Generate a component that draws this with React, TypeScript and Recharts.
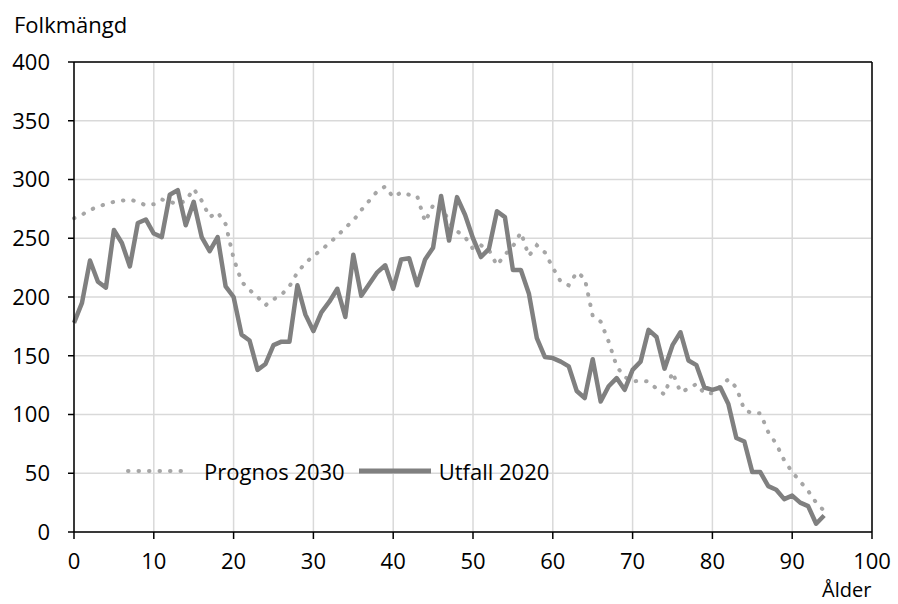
import { LineChart, Line, XAxis, YAxis, CartesianGrid, ReferenceLine } from "recharts";

const ages = Array.from({ length: 95 }, (_, i) => i);

const utfall2020 = [
  178, 195, 231, 213, 208, 257, 246, 226, 263, 266,
  254, 251, 287, 291, 261, 281, 251, 239, 251, 209,
  200, 168, 163, 138, 143, 159, 162, 162, 210, 185,
  171, 187, 196, 207, 183, 236, 201, 211, 221, 227,
  207, 232, 233, 210, 232, 242, 286, 248, 285, 270,
  250, 234, 241, 273, 268, 223, 223, 203, 165, 149,
  148, 145, 141, 120, 114, 147, 111, 124, 131, 121,
  138, 145, 172, 166, 139, 159, 170, 146, 142, 123,
  121, 123, 109, 80, 77, 51, 51, 39, 36, 28,
  31, 25, 22, 7, 14,
];

const prognos2030 = [
  267, 270, 274, 277, 279, 281, 282, 283, 281, 278,
  279, 283, 281, 279, 282, 292, 282, 268, 272, 262,
  233, 213, 206, 200, 193, 198, 202, 209, 221, 229,
  235, 240, 246, 252, 259, 265, 274, 282, 290, 294,
  285, 289, 287, 286, 264, 278, 278, 264, 256, 251,
  241, 244, 240, 227, 236, 243, 255, 235, 244, 238,
  225, 213, 210, 221, 216, 184, 179, 162, 141, 132,
  128, 129, 128, 122, 117, 136, 119, 122, 126, 118,
  118, 124, 130, 123, 104, 101, 101, 85, 75, 61,
  51, 43, 35, 25, 18,
];

const xTicks = [0, 10, 20, 30, 40, 50, 60, 70, 80, 90, 100];
const yTicks = [0, 50, 100, 150, 200, 250, 300, 350, 400];

const data = ages.map((a, i) => ({ age: a, utfall: utfall2020[i], prognos: prognos2030[i] }));

const FONT = "'Open Sans', sans-serif";

function ChartLegend() {
  return (
    <div style={{ display: "flex", alignItems: "center", fontFamily: FONT, fontSize: 22, color: "#000" }}>
      <svg width={66} height={10} style={{ marginRight: 12 }}>
        <line x1={2} y1={5} x2={64} y2={5} stroke="#a6a6a6" strokeWidth={4} strokeLinecap="round" strokeDasharray="0.5 10" />
      </svg>
      <span>Prognos 2030</span>
      <svg width={72} height={10} style={{ marginLeft: 14, marginRight: 8 }}>
        <line x1={0} y1={5} x2={72} y2={5} stroke="#808080" strokeWidth={5} />
      </svg>
      <span>Utfall 2020</span>
    </div>
  );
}

export default function App() {
  return (
    <div style={{ position: "absolute", left: 0, top: 0, width: 898, height: 604, background: "#fff" }}>
      <LineChart width={898} height={604} data={data} margin={{ top: 62, right: 26, bottom: 32, left: 8 }}>
        <CartesianGrid stroke="#d9d9d9" strokeWidth={1.5} />
        <XAxis
          dataKey="age"
          type="number"
          domain={[0, 100]}
          ticks={xTicks}
          height={40}
          tickSize={7}
          tickMargin={14}
          axisLine={{ stroke: "#000", strokeWidth: 1.5 }}
          tickLine={{ stroke: "#000", strokeWidth: 1.5 }}
          tick={{ fill: "#000", fontSize: 22, fontFamily: FONT }}
          interval={0}
        />
        <YAxis
          domain={[0, 400]}
          ticks={yTicks}
          width={66}
          tickSize={6}
          tickMargin={18}
          axisLine={{ stroke: "#000", strokeWidth: 1.5 }}
          tickLine={{ stroke: "#000", strokeWidth: 1.5 }}
          tick={{ fill: "#000", fontSize: 22, fontFamily: FONT }}
          interval={0}
        />
        <ReferenceLine y={400} stroke="#000" strokeWidth={1.5} />
        <ReferenceLine x={100} stroke="#000" strokeWidth={1.5} />
        <Line
          dataKey="prognos"
          name="Prognos 2030"
          stroke="#a6a6a6"
          strokeWidth={4}
          strokeLinecap="round"
          strokeDasharray="0.5 10"
          dot={false}
          activeDot={false}
          isAnimationActive={false}
        />
        <Line
          dataKey="utfall"
          name="Utfall 2020"
          stroke="#808080"
          strokeWidth={4.5}
          strokeLinejoin="round"
          dot={false}
          activeDot={false}
          isAnimationActive={false}
        />
      </LineChart>
      <div style={{ position: "absolute", left: 14, top: 9, fontFamily: FONT, fontSize: 22, color: "#000" }}>
        Folkmängd
      </div>
      <div style={{ position: "absolute", left: 822, top: 576, fontFamily: FONT, fontSize: 20, color: "#000" }}>
        Ålder
      </div>
      <div style={{ position: "absolute", left: 126, top: 456 }}>
        <ChartLegend />
      </div>
    </div>
  );
}
